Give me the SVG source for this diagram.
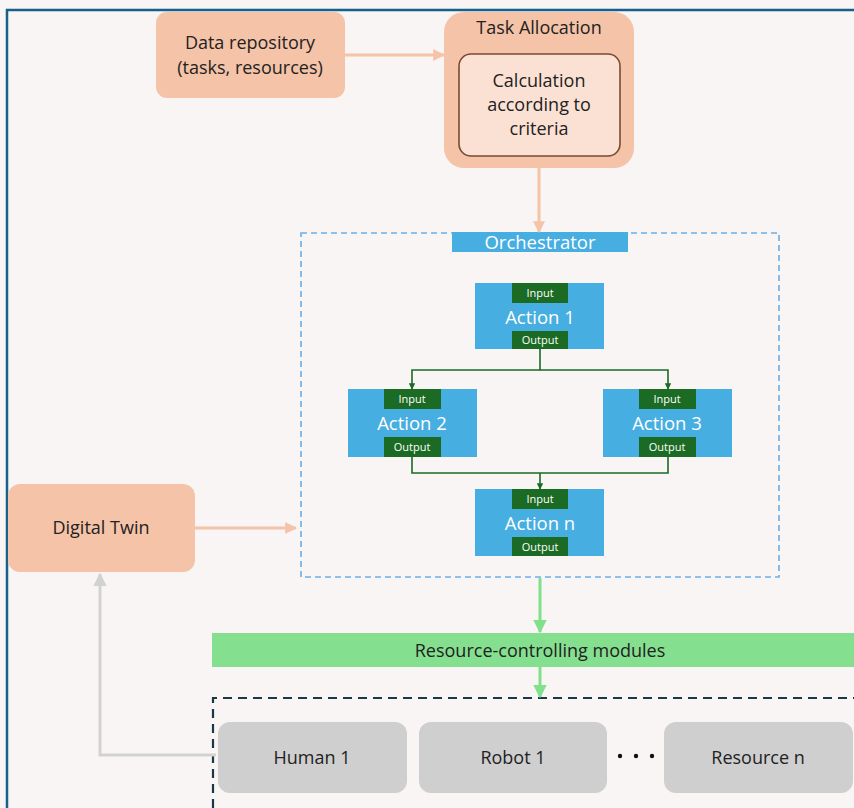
<svg xmlns="http://www.w3.org/2000/svg" width="854" height="808" viewBox="0 0 854 808">
<defs>
<style>
.t{font-family:"Open Sans","Liberation Sans",Arial,sans-serif;fill:#222;text-anchor:middle;font-size:18px}
.w{font-family:"Open Sans","Liberation Sans",Arial,sans-serif;fill:#fff;text-anchor:middle;font-size:18.5px}
.s{font-family:"Open Sans","Liberation Sans",Arial,sans-serif;fill:#fff;text-anchor:middle;font-size:11px}
.peach{fill:#f5c3a7}
.act{fill:#46aee0}
.tab{fill:#1b6b24}
.grey{fill:#cfcfcf}
</style>
<marker id="mPeach" viewBox="0 0 10 10" refX="9" refY="5" markerWidth="4" markerHeight="4" orient="auto" markerUnits="strokeWidth"><path d="M0,0L10,5L0,10z" fill="#f5c3a7"/></marker>
<marker id="mGreen" viewBox="0 0 10 10" refX="9" refY="5" markerWidth="4.5" markerHeight="4.5" orient="auto" markerUnits="strokeWidth"><path d="M0,0L10,5L0,10z" fill="#80e08b"/></marker>
<marker id="mGrey" viewBox="0 0 10 10" refX="9" refY="5" markerWidth="4.5" markerHeight="4.5" orient="auto" markerUnits="strokeWidth"><path d="M0,0L10,5L0,10z" fill="#d2d2d2"/></marker>
<marker id="mDg" viewBox="0 0 10 10" refX="9" refY="5" markerWidth="4" markerHeight="4" orient="auto" markerUnits="strokeWidth"><path d="M0,0L10,5L0,10z" fill="#1b6b24"/></marker>
</defs>
<rect x="0" y="0" width="854" height="808" fill="#f8f5f4"/>
<path d="M7,808V10H854" fill="none" stroke="#17608c" stroke-width="2.5"/>

<g id="data-repository">
<rect x="156" y="12" width="189" height="86" rx="11" class="peach"/>
<text class="t" x="250" y="49">Data repository</text>
<text class="t" x="250" y="74">(tasks, resources)</text>
</g>

<g id="task-allocation">
<rect x="444" y="12" width="190" height="156" rx="20" class="peach"/>
<text class="t" x="539" y="34">Task Allocation</text>
<rect x="459" y="54" width="161" height="102" rx="12" fill="#fbe1d4" stroke="#7a4a30" stroke-width="1.6"/>
<text class="t" x="539" y="87">Calculation</text>
<text class="t" x="539" y="111">according to</text>
<text class="t" x="539" y="135">criteria</text>
</g>

<g id="orchestrator">
<rect x="301" y="233" width="478" height="344" fill="none" stroke="#6aaeea" stroke-width="1.6" stroke-dasharray="6 4"/>
<rect x="452" y="232" width="176" height="20" class="act"/>
<text class="w" x="540" y="249">Orchestrator</text>
</g>

<g id="action-1">
<rect x="475" y="283" width="129" height="66" class="act"/>
<rect x="512" y="283" width="56" height="20" class="tab"/>
<text class="s" x="540" y="297">Input</text>
<text class="w" x="540" y="324">Action 1</text>
<rect x="512" y="331" width="56" height="18" class="tab"/>
<text class="s" x="540" y="344">Output</text>
</g>

<g id="action-2">
<rect x="348" y="389" width="129" height="68" class="act"/>
<rect x="384" y="389" width="57" height="20" class="tab"/>
<text class="s" x="412" y="403">Input</text>
<text class="w" x="412" y="430">Action 2</text>
<rect x="384" y="437" width="57" height="20" class="tab"/>
<text class="s" x="412" y="451">Output</text>
</g>

<g id="action-3">
<rect x="603" y="389" width="129" height="68" class="act"/>
<rect x="639" y="389" width="57" height="20" class="tab"/>
<text class="s" x="667" y="403">Input</text>
<text class="w" x="667" y="430">Action 3</text>
<rect x="639" y="437" width="57" height="20" class="tab"/>
<text class="s" x="667" y="451">Output</text>
</g>

<g id="action-n">
<rect x="475" y="489" width="129" height="67" class="act"/>
<rect x="512" y="489" width="56" height="20" class="tab"/>
<text class="s" x="540" y="503">Input</text>
<text class="w" x="540" y="530">Action n</text>
<rect x="512" y="537" width="56" height="19" class="tab"/>
<text class="s" x="540" y="551">Output</text>
</g>

<g id="digital-twin">
<rect x="8" y="484" width="187" height="88" rx="12" class="peach"/>
<text class="t" x="101" y="534">Digital Twin</text>
</g>

<g id="resource-controlling-modules">
<rect x="212" y="633" width="642" height="34" fill="#84e08f"/>
<text class="t" x="540" y="657">Resource-controlling modules</text>
</g>

<g id="resources">
<path d="M213,808V698H854" fill="none" stroke="#1c3847" stroke-width="2.2" stroke-dasharray="9 6"/>
</g>

<g id="human-1">
<rect x="218" y="722" width="189" height="71" rx="12" class="grey"/>
<text class="t" x="312" y="764">Human 1</text>
</g>
<g id="robot-1">
<rect x="419" y="722" width="188" height="71" rx="12" class="grey"/>
<text class="t" x="513" y="764">Robot 1</text>
</g>
<g id="dots">
<circle cx="620" cy="756" r="2.2" fill="#111"/>
<circle cx="636" cy="756" r="2.2" fill="#111"/>
<circle cx="652" cy="756" r="2.2" fill="#111"/>
</g>
<g id="resource-n">
<rect x="664" y="722" width="189" height="71" rx="12" class="grey"/>
<text class="t" x="758" y="764">Resource n</text>
</g>

<g id="connectors" fill="none">
<path d="M345,55H444" stroke="#f5c3a7" stroke-width="3" marker-end="url(#mPeach)"/>
<path d="M539,168V232" stroke="#f5c3a7" stroke-width="3" marker-end="url(#mPeach)"/>
<path d="M195,528H296" stroke="#f5c3a7" stroke-width="3" marker-end="url(#mPeach)"/>
<path d="M540,578V632" stroke="#80e08b" stroke-width="3" marker-end="url(#mGreen)"/>
<path d="M540,667V697" stroke="#80e08b" stroke-width="3" marker-end="url(#mGreen)"/>
<path d="M216,755H100V574" stroke="#d2d2d2" stroke-width="3" marker-end="url(#mGrey)"/>
<path d="M540,349V370H412V389" stroke="#1b6b24" stroke-width="1.6" marker-end="url(#mDg)"/>
<path d="M540,370H668V389" stroke="#1b6b24" stroke-width="1.6" marker-end="url(#mDg)"/>
<path d="M412,457V473H668V457" stroke="#1b6b24" stroke-width="1.6"/>
<path d="M540,473V489" stroke="#1b6b24" stroke-width="1.6" marker-end="url(#mDg)"/>
</g>
</svg>
